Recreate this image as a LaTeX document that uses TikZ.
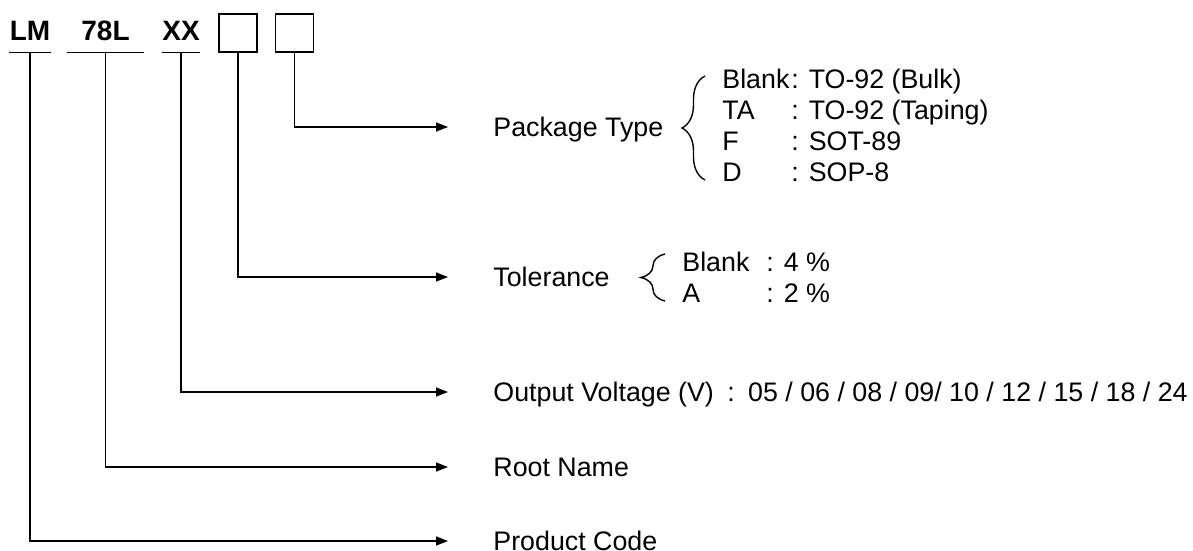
\documentclass[tikz,border=0pt]{standalone}
\usepackage{fontspec}
\setmainfont{Liberation Sans}
\usetikzlibrary{arrows.meta,decorations.pathreplacing}

\begin{document}
\begin{tikzpicture}[x=0.5pt,y=-0.5pt,
    part/.style={inner xsep=0pt, inner ysep=5.5pt, text height=10pt, text depth=0pt,
        font=\fontsize{14}{16}\selectfont\bfseries},
    slot/.style={draw, line width=0.8pt, minimum size=19pt, inner sep=0pt},
    lbl/.style={anchor=west, inner sep=0pt, text height=9.6pt, text depth=0pt,
        font=\fontsize{13.4}{15}\selectfont},
    conn/.style={line width=0.8pt, -{Triangle[length=6pt,width=4.5pt]}, shorten >=22.5pt},
    brc/.style={decorate, decoration={brace, amplitude=#1}, line width=0.7pt},
    brc/.default=10pt]
    \useasboundingbox (0,0) rectangle (1193,551);

    % parts of the type number
    \node[part, minimum width=19pt] (pcode) at (30,31) {LM};
    \node[part, minimum width=38.5pt] (rname) at (105.5,31) {78L};
    \node[part, minimum width=19pt] (volt) at (181,31) {XX};
    \node[slot] (tolbox) at (238,33) {};
    \node[slot] (pkgbox) at (294.5,33) {};
    \draw[line width=0.8pt] (pcode.south west) -- (pcode.south east);
    \draw[line width=0.8pt] (rname.south west) -- (rname.south east);
    \draw[line width=0.8pt] (volt.south west) -- (volt.south east);

    % labels
    \node[lbl] (lblpkg) at (493,127) {Package Type};
    \node[lbl] (lbltol) at (493,277) {Tolerance};
    \node[lbl] (lblvolt) at (493,392) {Output Voltage (V)\hspace{0.5em}:\hspace{0.5em}05 / 06 / 08 / 09/ 10 / 12 / 15 / 18 / 24};
    \node[lbl] (lblroot) at (493,467) {Root Name};
    \node[lbl] (lblcode) at (493,541) {Product Code};

    % package types
    \draw[brc=11.5pt] (705,180) -- (705,76);
    \node[lbl] (pkga) at (722,79) {Blank};
    \node[lbl] (pkgav) at (791,79) {: TO-92 (Bulk)};
    \node[lbl] (pkgb) at (722,110) {TA};
    \node[lbl] (pkgbv) at (791,110) {: TO-92 (Taping)};
    \node[lbl] (pkgc) at (722,141) {F};
    \node[lbl] (pkgcv) at (791,141) {: SOT-89};
    \node[lbl] (pkgd) at (722,172) {D};
    \node[lbl] (pkgdv) at (791,172) {: SOP-8};

    % tolerance
    \draw[brc=12pt] (665,301) -- (665,254);
    \node[lbl] (tola) at (682,262) {Blank};
    \node[lbl] (tolav) at (766,262) {: 4 \%};
    \node[lbl] (tolb) at (682,293) {A};
    \node[lbl] (tolbv) at (766,293) {: 2 \%};

    % connectors
    \draw[conn] (pkgbox.south) |- (lblpkg.west);
    \draw[conn] (tolbox.south) |- (lbltol.west);
    \draw[conn] (volt.south) |- (lblvolt.west);
    \draw[conn] (rname.south) |- (lblroot.west);
    \draw[conn] (pcode.south) |- (lblcode.west);
\end{tikzpicture}
\end{document}
